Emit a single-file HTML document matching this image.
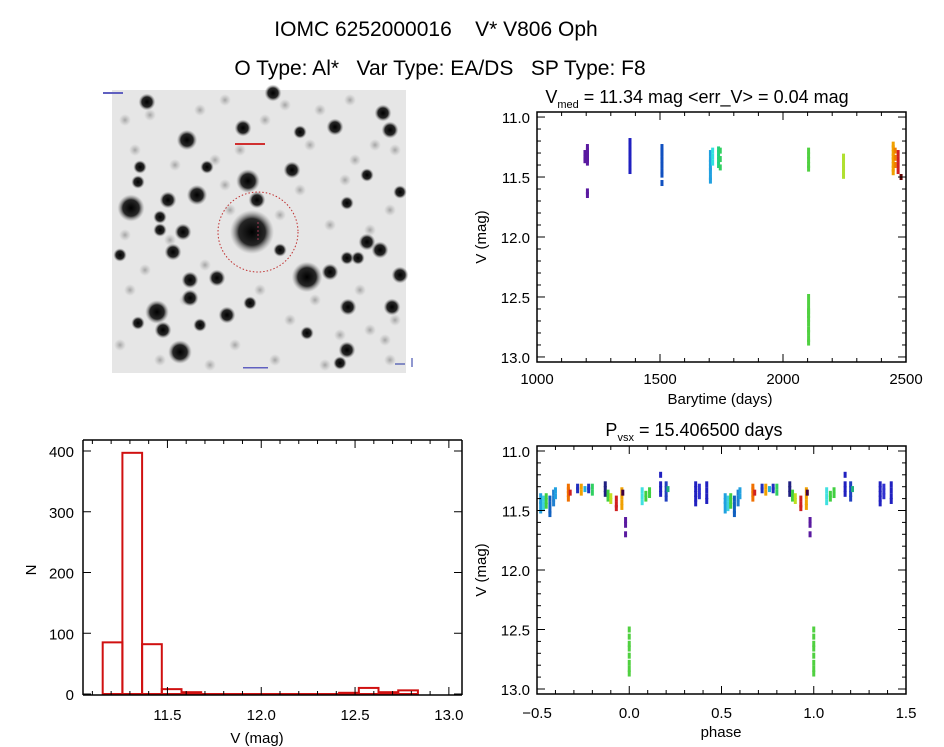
<!DOCTYPE html>
<html><head><meta charset="utf-8">
<style>
html,body{margin:0;padding:0;background:#fff;}
svg{display:block;font-family:"Liberation Sans",sans-serif;}
</style></head>
<body>
<svg id="root" width="944" height="747" viewBox="0 0 944 747">
<rect x="0" y="0" width="944" height="747" fill="#fff"/>
<text x="436" y="36" font-size="21" text-anchor="middle" xml:space="preserve">IOMC 6252000016    V* V806 Oph</text>
<text x="440" y="75" font-size="21" text-anchor="middle" xml:space="preserve">O Type: Al*   Var Type: EA/DS   SP Type: F8</text>
<g id="img"></g>
<g id="lc"></g>
<g id="hist"></g>
<g id="ph"></g>
</svg>
<script>
// ---------- data: light curve ----------
const lcTimes = [1195,1195,1195,1205,1205,1205,1205,1205,1205,1205,1205,1205,1205,1205,
 1378,1378,1378,1378,1378,1378,1378,1378,1378,
 1508,1508,1508,1508,1508,1508,1508,1508,1508,
 1705,1705,1705,1705,1705,1705,1705,1714,1714,1714,
 1738,1738,1738,1738,1738,1745,1745,1745,
 2104,2104,2104,2104,2104,2104,2104,2104,2104,2104,2104,2104,2104,2104,2104,2104,
 2246,2246,2246,2246,2246,2246,
 2448,2448,2448,2448,2448,2448,2448,2448,2456,2456,2456,2468,2468,2468,2468,2480];
const lcMags = [11.3,11.34,11.36,11.25,11.28,11.3,11.32,11.34,11.36,11.38,11.31,11.33,11.62,11.65,
 11.2,11.24,11.28,11.3,11.33,11.36,11.39,11.42,11.45,
 11.25,11.28,11.3,11.33,11.36,11.4,11.45,11.48,11.55,
 11.3,11.35,11.38,11.42,11.45,11.5,11.53,11.28,11.33,11.38,
 11.27,11.3,11.33,11.36,11.4,11.28,11.35,11.42,
 11.28,11.32,11.36,11.4,11.43,12.5,12.55,12.6,12.62,12.65,12.68,12.72,12.77,12.8,12.85,12.88,
 11.33,11.36,11.4,11.43,11.46,11.49,
 11.23,11.26,11.3,11.33,11.36,11.4,11.43,11.46,11.28,11.34,11.4,11.3,11.35,11.4,11.45,11.5];
const lcColors = ["#5a1aa0","#5a1aa0","#5a1aa0","#5a1aa0","#5a1aa0","#5a1aa0","#5a1aa0","#5a1aa0","#5a1aa0","#5a1aa0","#5a1aa0","#5a1aa0","#5a1aa0","#5a1aa0",
 "#2020c0","#2020c0","#2020c0","#2020c0","#2020c0","#2020c0","#2020c0","#2020c0","#2020c0",
 "#1050c0","#1050c0","#1050c0","#1050c0","#1050c0","#1050c0","#1050c0","#1050c0","#1050c0",
 "#20a0e0","#20a0e0","#20a0e0","#20a0e0","#20a0e0","#20a0e0","#20a0e0","#30e0e0","#30e0e0","#30e0e0",
 "#20d080","#20d080","#20d080","#20d080","#20d080","#30d060","#30d060","#30d060",
 "#50d040","#50d040","#50d040","#50d040","#50d040","#50d040","#50d040","#50d040","#50d040","#50d040","#50d040","#50d040","#50d040","#50d040","#50d040","#50d040",
 "#b0e030","#b0e030","#b0e030","#b0e030","#b0e030","#b0e030",
 "#f0a000","#f0a000","#f0a000","#f0a000","#f0a000","#f0a000","#f0a000","#f0a000","#f08000","#f08000","#f08000","#d02020","#d02020","#d02020","#d02020","#600000"];
// ---------- data: phase ----------
const phPhases = [0.52,0.52,0.52,0.52,0.535,0.535,0.535,0.55,0.55,0.55,0.57,0.57,0.57,0.57,0.59,0.59,0.59,0.60,0.60,
 0.67,0.67,0.67,0.67,0.68,0.72,0.72,0.74,0.74,0.76,0.78,0.78,0.80,0.80,
 0.87,0.87,0.87,0.885,0.885,0.885,0.90,0.90,0.93,0.93,0.93,0.96,0.96,0.96,0.96,0.965,
 0.98,0.98,0.98,1.0,1.0,1.0,1.0,1.0,1.0,1.0,1.0,
 0.07,0.07,0.07,0.09,0.09,0.11,0.11,0.17,0.17,0.17,0.17,0.20,0.20,0.20,0.20,0.21,
 0.36,0.36,0.36,0.36,0.36,0.38,0.38,0.38,0.42,0.42,0.42,0.42];
const phMags = [11.38,11.42,11.45,11.5,11.4,11.45,11.48,11.38,11.42,11.46,11.4,11.45,11.5,11.53,11.35,11.4,11.44,11.33,11.38,
 11.3,11.33,11.36,11.4,11.35,11.3,11.33,11.3,11.35,11.32,11.3,11.33,11.3,11.35,
 11.28,11.32,11.36,11.35,11.38,11.4,11.38,11.42,11.4,11.45,11.48,11.33,11.38,11.43,11.47,11.35,
 11.58,11.62,11.7,12.5,12.56,12.62,12.66,12.72,12.78,12.83,12.87,
 11.33,11.38,11.43,11.36,11.4,11.33,11.37,11.2,11.28,11.32,11.36,11.28,11.32,11.36,11.4,11.32,
 11.28,11.32,11.36,11.4,11.44,11.3,11.34,11.38,11.28,11.33,11.38,11.42];
const phColors = ["#20a0e0","#20a0e0","#20a0e0","#20a0e0","#40d0e0","#40d0e0","#40d0e0","#40d040","#40d040","#40d040","#1060c0","#1060c0","#1060c0","#1060c0","#2080d0","#2080d0","#2080d0","#20a0e0","#20a0e0",
 "#f07000","#f07000","#f07000","#f07000","#d02020","#2030c0","#2030c0","#f0a000","#f0a000","#20b0e0","#2030c0","#2030c0","#30d060","#30d060",
 "#202080","#202080","#202080","#40d040","#40d040","#40d040","#c0e020","#c0e020","#d02020","#d02020","#d02020","#f0a000","#f0a000","#f0a000","#f0a000","#400040",
 "#5a1aa0","#5a1aa0","#5a1aa0","#50d040","#50d040","#50d040","#50d040","#50d040","#50d040","#50d040","#50d040",
 "#40e0e0","#40e0e0","#40e0e0","#40d040","#40d040","#40d040","#40d040","#2020c0","#2020c0","#2020c0","#2020c0","#2040c0","#2040c0","#2040c0","#2040c0","#20b080",
 "#2020c0","#2020c0","#2020c0","#2020c0","#2020c0","#3030d0","#3030d0","#3030d0","#2020c0","#2020c0","#2020c0","#2020c0"];
// ---------- data: histogram ----------
const histBinStart = 11.155;
const histBinWidth = 0.105;
const histCounts = [85,397,82,8,3,0,0,0,0,0,0,0,2,10,3,6];
const histYTicks = ["0","100","200","300","400"];
const lcXTicks = ["1000","1500","2000","2500"];
const magTicks = ["11.0","11.5","12.0","12.5","13.0"];
const phXTicks = ["-0.5","0.0","0.5","1.0","1.5"];
const histXTicks = ["11.5","12.0","12.5","13.0"];
// ---------- star field (image) ----------
const starX = [131,252,307,248,180,187,197,157,163,383,390,335,243,273,147,183,168,292,190,190,217,173,160,160,330,347,367,380,400,392,348,347,340,307,227,200,138,140,257,207,400,280,138,347,358,250,120,300,367];
const starY = [208,232,277,181,352,140,195,312,330,113,130,127,128,93,102,232,200,170,280,298,278,252,217,230,272,203,242,250,275,307,307,350,363,333,315,325,323,167,200,167,192,250,182,258,258,303,255,132,175];
const starR = [8,13,9,7,7,6,6,7,5,5,5,5,5,5,5,5,5,5,5,5,5,5,4,4,5,4,5,5,5,5,5,5,4,4,5,4,4,4,5,4,4,4,4,4,4,4,4,4,4];
const faintX = [125,150,200,225,265,285,320,350,375,395,135,215,240,310,355,390,125,170,230,280,330,370,145,205,260,315,360,395,130,185,235,290,340,385,160,210,275,325,370,120,175,225,300,345,390];
const faintY = [120,115,110,100,120,105,110,100,145,150,150,160,150,145,160,210,235,240,210,215,225,230,270,265,290,300,290,320,290,300,345,320,335,340,360,365,360,365,330,345,165,185,190,180,360];

const NS = "http://www.w3.org/2000/svg";
function mk(parent, tag, attrs){ const e=document.createElementNS(NS,tag); for(const k in attrs) e.setAttribute(k,attrs[k]); parent.appendChild(e); return e; }

// image
(function(){
 const g=document.getElementById('img');
 const defs=mk(g,'defs',{});
 const rg=mk(defs,'radialGradient',{id:'starg'});
 mk(rg,'stop',{offset:'0%','stop-color':'#000','stop-opacity':'1'});
 mk(rg,'stop',{offset:'60%','stop-color':'#111','stop-opacity':'0.9'});
 mk(rg,'stop',{offset:'100%','stop-color':'#888','stop-opacity':'0'});
 const fg=mk(defs,'radialGradient',{id:'faintg'});
 mk(fg,'stop',{offset:'0%','stop-color':'#777','stop-opacity':'0.6'});
 mk(fg,'stop',{offset:'100%','stop-color':'#999','stop-opacity':'0'});
 const bg=mk(g,'rect',{x:112,y:90,width:294,height:283,fill:'#e6e6e6'});
 
 
 for(let i=0;i<faintX.length;i++){
  const c=mk(g,'circle',{cx:faintX[i],cy:faintY[i],r:6,fill:'url(#faintg)'});
  
  
 }
 for(let i=0;i<starX.length;i++){
  const c=mk(g,'circle',{cx:starX[i],cy:starY[i],r:starR[i]*1.7,fill:'url(#starg)'});
  
  
 }
 const ring=mk(g,'circle',{cx:258,cy:232,r:40,fill:'none',stroke:'#c03030','stroke-width':1,'stroke-dasharray':'1.5 2'});
 
 
 mk(g,'line',{x1:258,y1:222,x2:258,y2:242,stroke:'#c04060','stroke-width':0.8,'stroke-dasharray':'2 2'});
 mk(g,'rect',{x:235,y:143,width:30,height:2,fill:'#d03030'});
 mk(g,'rect',{x:103,y:92,width:20,height:2,fill:'#6060c0'});
 mk(g,'rect',{x:243,y:367,width:25,height:1.5,fill:'#6060c0'});
 mk(g,'line',{x1:395,y1:364,x2:405,y2:364,stroke:'#2030a0','stroke-width':1});
 mk(g,'line',{x1:412,y1:358,x2:412,y2:367,stroke:'#2030a0','stroke-width':1});
})();

function frame(g,x0,y0,x1,y1){
 const r=mk(g,'rect',{x:x0,y:y0,width:x1-x0,height:y1-y0,fill:'none',stroke:'#000','stroke-width':1.5});
 
 
}
function ticksX(g,sx,vmin,vmax,major,minor,y0,y1,labels,labelY){
 for(let v=vmin;v<=vmax+1e-9;v+=minor){
  const x=sx(v); const isMaj=Math.abs(v/major-Math.round(v/major))<1e-6; const L=isMaj?8:4;
  mk(g,'line',{x1:x,y1:y1,x2:x,y2:y1-L,stroke:'#000','stroke-width':1});
  mk(g,'line',{x1:x,y1:y0,x2:x,y2:y0+L,stroke:'#000','stroke-width':1});
 }
 labels.forEach(s=>{ const t=mk(g,'text',{x:sx(parseFloat(s)),y:labelY,'font-size':15,'text-anchor':'middle'}); t.textContent=s.replace('-','\u2212');
  
  });
}
function ticksY(g,sy,vmin,vmax,major,minor,x0,x1,labels,labelX){
 for(let v=vmin;v<=vmax+1e-9;v+=minor){
  const y=sy(v); const isMaj=Math.abs(v/major-Math.round(v/major))<1e-6; const L=isMaj?8:4;
  mk(g,'line',{x1:x0,y1:y,x2:x0+L,y2:y,stroke:'#000','stroke-width':1});
  mk(g,'line',{x1:x1,y1:y,x2:x1-L,y2:y,stroke:'#000','stroke-width':1});
 }
 labels.forEach(s=>{ const t=mk(g,'text',{x:labelX,y:sy(parseFloat(s))+6,'font-size':15,'text-anchor':'end'}); t.textContent=s;
  
  });
}
function label(g,txt,x,y,rot,name){
 const t=mk(g,'text',{x:x,y:y,'font-size':15,'text-anchor':'middle'});
 if(rot) t.setAttribute('transform','rotate(-90 '+x+' '+y+')');
 t.textContent=txt;
 
 
 return t;
}
function subTitle(g,x,y,main,sub,rest,name){
 const t=mk(g,'text',{x:x,y:y,'font-size':18,'text-anchor':'middle'});
 const a=mk(t,'tspan',{}); a.textContent=main;
 const b=mk(t,'tspan',{dy:5,'font-size':11}); b.textContent=sub;
 const c=mk(t,'tspan',{dy:-5}); c.textContent=rest;
 
 
}
const magTop=10.958, magBot=13.042;

// light curve
(function(){
 const g=document.getElementById('lc');
 const X0=537,X1=906,Y0=112,Y1=362;
 const sx=v=>X0+(v-1000)/1500*(X1-X0);
 const sy=v=>Y0+(v-magTop)/(magBot-magTop)*(Y1-Y0);
 for(let i=0;i<lcTimes.length;i++){
  const r=mk(g,'rect',{x:sx(lcTimes[i])-1.5,y:sy(lcMags[i])-3,width:3,height:6,fill:lcColors[i]});
  
  
 }
 frame(g,X0,Y0,X1,Y1);
 ticksX(g,sx,1000,2500,500,100,Y0,Y1,lcXTicks,384);
 ticksY(g,sy,11.0,13.0,0.5,0.1,X0,X1,magTicks,530);
 label(g,'Barytime (days)',720,404,false,'x-axis-title');
 label(g,'V (mag)',486,237,true,'y-axis-title');
 subTitle(g,697,103,'V','med',' = 11.34 mag <err_V> = 0.04 mag','lc-title');
})();

// phase plot
(function(){
 const g=document.getElementById('ph');
 const X0=537,X1=906,Y0=446,Y1=694;
 const sx=v=>X0+(v+0.5)/2*(X1-X0);
 const sy=v=>Y0+(v-magTop)/(magBot-magTop)*(Y1-Y0);
 for(let i=0;i<phPhases.length;i++){
  [-1,0,1].forEach(k=>{
   const p=phPhases[i]+k;
   if(p< -0.5||p>1.5) return;
   const r=mk(g,'rect',{x:sx(p)-1.5,y:sy(phMags[i])-3,width:3,height:6,fill:phColors[i]});
   
   
  });
 }
 frame(g,X0,Y0,X1,Y1);
 ticksX(g,sx,-0.5,1.5,0.5,0.1,Y0,Y1,phXTicks,718);
 ticksY(g,sy,11.0,13.0,0.5,0.1,X0,X1,magTicks,530);
 label(g,'phase',721,737,false,'x-axis-title');
 label(g,'V (mag)',486,570,true,'y-axis-title');
 subTitle(g,694,436,'P','vsx',' = 15.406500 days','phase-title');
})();

// histogram
(function(){
 const g=document.getElementById('hist');
 const X0=83,X1=462,Y0=440,Y1=695;
 const sx=v=>X0+(v-11.05)/2.02*(X1-X0);
 const sy=v=>694-(v/400)*(694-451);
 for(let i=0;i<histCounts.length;i++){
  const a=histBinStart+i*histBinWidth, b=a+histBinWidth;
  const r=mk(g,'rect',{x:sx(a),y:sy(histCounts[i]),width:sx(b)-sx(a),height:Math.max(694-sy(histCounts[i]),0.5),fill:'none',stroke:'#d01010','stroke-width':2});
  
  
 }
 mk(g,'line',{x1:X0,y1:Y0,x2:X0,y2:Y1,stroke:'#000','stroke-width':1.5});
 mk(g,'line',{x1:X1,y1:Y0,x2:X1,y2:Y1,stroke:'#000','stroke-width':1.5});
 mk(g,'line',{x1:X0,y1:Y0,x2:X1,y2:Y0,stroke:'#000','stroke-width':1.5});
 mk(g,'line',{x1:X0,y1:Y1,x2:X1,y2:Y1,stroke:'#000','stroke-width':1.5});
 ticksX(g,sx,11.1,13.0,0.5,0.1,Y0,Y1,histXTicks,720);
 ticksY(g,sy,0,400,100,100,X0,X1,histYTicks,74);
 label(g,'V (mag)',257,743,false,'x-axis-title');
 label(g,'N',36,570,true,'y-axis-title');
})();
</script>
</body></html>
